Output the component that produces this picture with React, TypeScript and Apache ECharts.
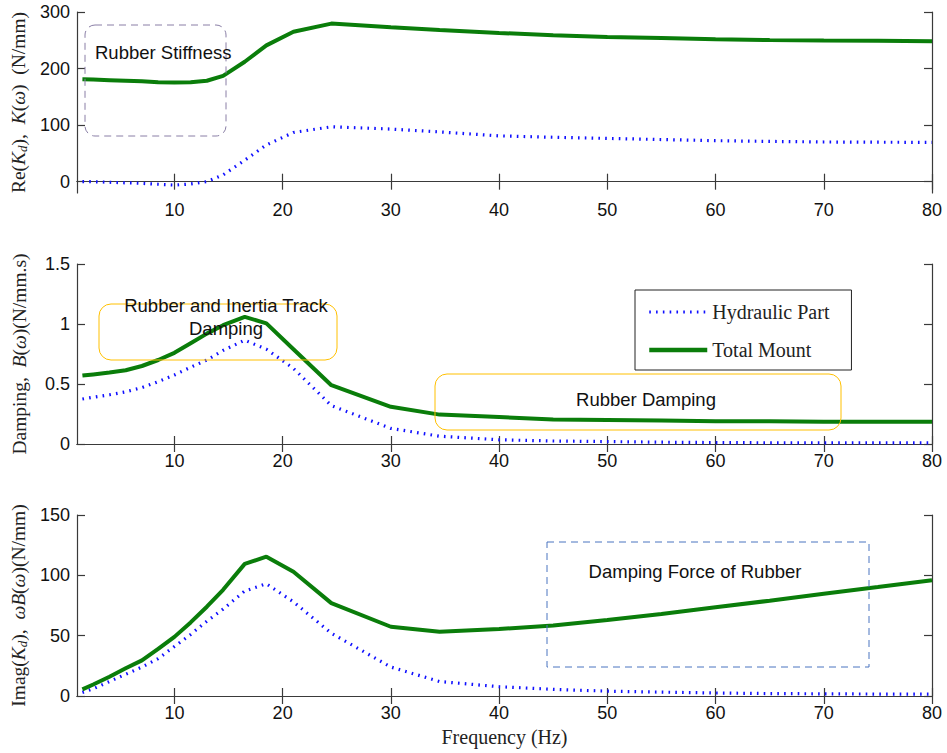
import React, { useEffect, useRef } from "react";
import * as echarts from "echarts";

const freq = [1.5, 2.5, 4, 5.5, 7, 8.5, 10, 11.5, 13, 14.5, 16.5, 18.5, 21, 24.5, 30, 34.5, 40, 45, 50, 55, 60, 65, 70, 75, 80];

const reHydraulic = [0, 0, -1, -2, -3, -4.5, -6, -4, 0, 12, 38, 65, 87, 97, 93, 88, 81, 78.5, 76.5, 74.5, 72.5, 71.2, 70.2, 69.8, 69.5];
const reTotal = [181, 180.5, 179.5, 178.5, 177.5, 176, 175.3, 176, 178.5, 187, 212, 241, 265, 279.5, 273, 268, 263, 259, 256, 254, 252, 250.5, 249.5, 249, 248.5];

const dampHydraulic = [0.375, 0.39, 0.41, 0.435, 0.47, 0.52, 0.575, 0.64, 0.7, 0.78, 0.865, 0.79, 0.63, 0.32, 0.13, 0.065, 0.035, 0.025, 0.02, 0.015, 0.012, 0.01, 0.01, 0.01, 0.01];
const dampTotal = [0.57, 0.58, 0.595, 0.615, 0.65, 0.7, 0.76, 0.84, 0.92, 0.99, 1.06, 1.005, 0.79, 0.49, 0.31, 0.245, 0.225, 0.205, 0.2, 0.195, 0.19, 0.19, 0.186, 0.186, 0.185];

const imagHydraulic = [3, 6, 12, 18, 24, 31, 41, 51, 62, 72, 87, 93, 78, 52, 24, 12, 7.7, 5.5, 4, 3.2, 2.5, 2, 1.8, 1.6, 1.5];
const imagTotal = [5.5, 9.5, 16, 23, 29.5, 39, 49, 61, 74, 88, 109.5, 115.5, 103, 77, 57.4, 53.3, 55.5, 58.5, 63, 68, 73.5, 79, 84.7, 90.3, 96];

const xTicks = [10, 20, 30, 40, 50, 60, 70, 80];
const reTicks = [0, 100, 200, 300];

const seriesNames = ["Hydraulic Part", "Total Mount"];

const GREEN = "#0a7d0a";
const BLUE = "#1010ff";
const AXIS = "#3a3a3a";
const SANS = "Liberation Sans, Arial, sans-serif";
const SERIF = "Liberation Serif, Times New Roman, serif";
const DOT: number[] = [1.6, 5.2];

const pairs = (ys: number[]) => freq.map((f, i) => [f, ys[i]]);

export default function App() {
  const ref = useRef<HTMLDivElement>(null);
  useEffect(() => {
    if (!ref.current) return;
    const chart = echarts.init(ref.current, undefined, { renderer: "svg" });

    const grids = [
      { left: 77, top: 12, width: 855, height: 181 },
      { left: 77, top: 264, width: 855, height: 180 },
      { left: 77, top: 515, width: 855, height: 181 },
    ];

    const lineAxis = { show: true, lineStyle: { color: AXIS, width: 1.2 } };
    const tickIn = (vals?: number[]) => ({
      show: true,
      inside: true,
      length: 8,
      lineStyle: { color: AXIS, width: 1.2 },
      ...(vals ? { customValues: vals } : {}),
    });
    const labelStyle = { color: "#111", fontFamily: SANS, fontSize: 18 };

    const xAxes: any[] = [];
    grids.forEach((_, g) => {
      xAxes.push({
        type: "value",
        gridIndex: g,
        min: 1,
        max: 80,
        position: "bottom",
        axisLine: lineAxis,
        axisTick: tickIn(xTicks),
        axisLabel: { ...labelStyle, margin: 8, customValues: xTicks },
        splitLine: { show: false },
        ...(g === 2
          ? {
              name: "Frequency (Hz)",
              nameLocation: "middle",
              nameGap: 31,
              nameTextStyle: { fontFamily: SERIF, fontSize: 20, color: "#222" },
            }
          : {}),
      });
      xAxes.push({
        type: "value",
        gridIndex: g,
        min: 1,
        max: 80,
        position: "top",
        axisLine: lineAxis,
        axisTick: tickIn(xTicks),
        axisLabel: { show: false },
        splitLine: { show: false },
      });
    });

    const richName = {
      it: { fontFamily: SERIF, fontSize: 19.5, fontStyle: "italic", color: "#222" },
      sub: { fontFamily: SERIF, fontSize: 13, fontStyle: "italic", color: "#222", padding: [8, 0, 0, 0] },
      n: { fontFamily: SERIF, fontSize: 19.5, color: "#222" },
    };
    const yNames = [
      "{n|Re(}{it|K}{sub|d}{n|),  }{it|K}{n|(}{it|ω}{n|)  (N/mm)}",
      "{n|Damping,  }{it|B}{n|(}{it|ω}{n|)(N/mm.s)}",
      "{n|Imag(}{it|K}{sub|d}{n|),  }{it|ωB}{n|(}{it|ω}{n|)(N/mm)}",
    ];
    const yRanges = [
      { min: -20, max: 300, custom: reTicks },
      { min: 0, max: 1.5, interval: 0.5 },
      { min: 0, max: 150, interval: 50 },
    ];

    const yAxes: any[] = [];
    grids.forEach((_, g) => {
      const r: any = yRanges[g];
      const base: any = { type: "value", gridIndex: g, min: r.min, max: r.max, splitLine: { show: false } };
      if (r.interval) base.interval = r.interval;
      yAxes.push({
        ...base,
        position: "left",
        axisLine: lineAxis,
        axisTick: tickIn(r.custom),
        axisLabel: { ...labelStyle, margin: 7, ...(r.custom ? { customValues: r.custom } : {}) },
        name: yNames[g],
        nameLocation: "middle",
        nameRotate: 90,
        nameGap: 48,
        nameTextStyle: { fontFamily: SERIF, fontSize: 19.5, color: "#222", rich: richName },
      });
      yAxes.push({
        ...base,
        position: "right",
        axisLine: lineAxis,
        axisTick: tickIn(r.custom),
        axisLabel: { show: false },
      });
    });

    const datasets = [
      [reHydraulic, reTotal],
      [dampHydraulic, dampTotal],
      [imagHydraulic, imagTotal],
    ];
    const series: any[] = [];
    datasets.forEach((pair, g) => {
      series.push({
        type: "line",
        name: seriesNames[0],
        xAxisIndex: g * 2,
        yAxisIndex: g * 2,
        data: pairs(pair[0]),
        symbol: "none",
        lineStyle: { color: BLUE, width: 3.2, type: DOT },
        itemStyle: { color: BLUE },
        z: 2,
      });
      series.push({
        type: "line",
        name: seriesNames[1],
        xAxisIndex: g * 2,
        yAxisIndex: g * 2,
        data: pairs(pair[1]),
        symbol: "none",
        lineStyle: { color: GREEN, width: 4 },
        itemStyle: { color: GREEN },
        z: 3,
      });
    });

    const annText = { fontFamily: SANS, fontSize: 18.5, fill: "#111" };

    chart.setOption({
      animation: false,
      backgroundColor: "#ffffff",
      grid: grids,
      xAxis: xAxes,
      yAxis: yAxes,
      series,
      legend: {
        data: [
          { name: seriesNames[0], lineStyle: { color: BLUE, width: 3.2, type: DOT } },
          { name: seriesNames[1], lineStyle: { color: GREEN, width: 4.5 } },
        ],
        orient: "vertical",
        left: 635,
        top: 290,
        itemWidth: 58,
        itemHeight: 14,
        itemGap: 18,
        padding: [12, 22, 10, 12],
        borderColor: "#222",
        borderWidth: 1,
        backgroundColor: "#fff",
        itemStyle: { opacity: 0 },
        textStyle: { fontFamily: SERIF, fontSize: 20, color: "#222" },
      },
      graphic: [
        {
          type: "rect",
          shape: { x: 85, y: 25, width: 141, height: 111, r: 10 },
          style: { fill: "none", stroke: "#8a7fa6", lineWidth: 1, lineDash: [7, 5] },
          z: 10,
        },
        { type: "text", x: 95, y: 52, style: { ...annText, text: "Rubber Stiffness", verticalAlign: "middle" }, z: 11 },
        {
          type: "rect",
          shape: { x: 99, y: 304, width: 238, height: 56, r: 12 },
          style: { fill: "none", stroke: "#ffc000", lineWidth: 1 },
          z: 10,
        },
        {
          type: "text",
          x: 226,
          y: 305,
          style: { ...annText, text: "Rubber and Inertia Track", align: "center", verticalAlign: "middle" },
          z: 11,
        },
        {
          type: "text",
          x: 226,
          y: 328,
          style: { ...annText, text: "Damping", align: "center", verticalAlign: "middle" },
          z: 11,
        },
        {
          type: "rect",
          shape: { x: 435, y: 374, width: 406, height: 56, r: 12 },
          style: { fill: "none", stroke: "#ffc000", lineWidth: 1 },
          z: 10,
        },
        {
          type: "text",
          x: 646,
          y: 399,
          style: { ...annText, text: "Rubber Damping", align: "center", verticalAlign: "middle" },
          z: 11,
        },
        {
          type: "rect",
          shape: { x: 547, y: 542, width: 322, height: 125 },
          style: { fill: "none", stroke: "#4a74c0", lineWidth: 1, lineDash: [7, 5] },
          z: 10,
        },
        {
          type: "text",
          x: 695,
          y: 571,
          style: { ...annText, text: "Damping Force of Rubber", align: "center", verticalAlign: "middle" },
          z: 11,
        },
      ],
    });
    return () => chart.dispose();
  }, []);

  return (
    <div
      ref={ref}
      style={{ position: "fixed", left: 0, top: 0, width: 947, height: 753, background: "#fff" }}
    />
  );
}
